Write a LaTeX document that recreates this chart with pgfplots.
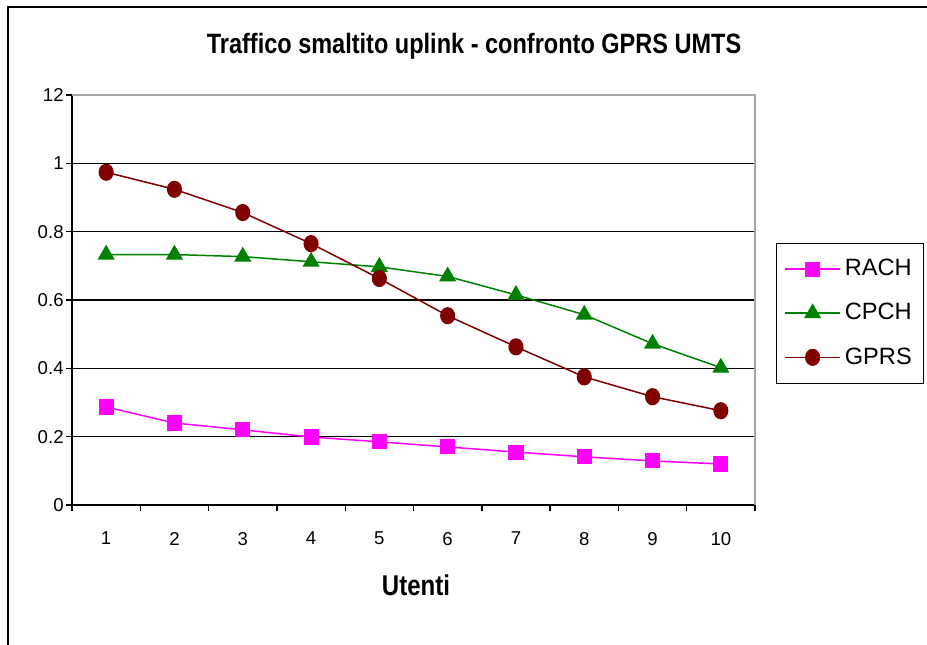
\documentclass[border=0pt]{standalone}
\usepackage{fontspec}
\setmainfont{Liberation Sans}
\usepackage{pgfplots}
\pgfplotsset{compat=1.18}

\definecolor{rach}{HTML}{FF00FF}
\definecolor{cpch}{HTML}{008000}
\definecolor{gprs}{HTML}{800000}

\begin{document}
\begin{tikzpicture}
% picture frame in image pixels (1px = 0.5pt), y downwards
\begin{scope}[x=0.5pt,y=-0.5pt]
\useasboundingbox (0,0) rectangle (927,644);
\draw[line width=1.2pt] (8,650) -- (8,7) -- (935,7);
\node[anchor=base, inner sep=0pt, font=\bfseries\fontsize{14}{16}\selectfont] at (474,53)
  {\scalebox{0.84}[1]{Traffico smaltito uplink - confronto GPRS UMTS}};
\node[anchor=base, inner sep=0pt, font=\bfseries\fontsize{14.3}{16}\selectfont] at (416,595)
  {\scalebox{0.84}[1]{Utenti}};
\end{scope}

\begin{axis}[
    at={(36pt,-252.5pt)}, anchor=south west,
    scale only axis,
    width=341.5pt, height=205pt,
    xmin=0.5, xmax=10.5,
    ymin=0, ymax=1.2,
    axis x line=bottom, axis y line=left,
    axis line style={-, line width=0.8pt, black},
    tick align=outside,
    major tick length=3pt,
    tick style={line width=0.7pt, black},
    xtick={0.5,1.5,...,10.5},
    xticklabels={},
    extra x ticks={1,2,...,10},
    extra x tick labels={1,2,3,4,5,6,7,8,9,10},
    extra x tick style={major tick length=0pt, grid=none,
        xticklabel style={yshift=-10pt}},
    ytick={0,0.2,0.4,0.6,0.8,1,1.2},
    yticklabels={0,0.2,0.4,0.6,0.8,1,12},
    ymajorgrids,
    grid style={line width=0.8pt, black},
    /pgf/number format/assume math mode=true,
    ticklabel style={font=\fontsize{9.3}{10}\selectfont},
    yticklabel style={inner sep=1pt},
    legend style={at={(1.0307,0.639)}, anchor=north west,
        draw=black,
        font=\fontsize{11.8}{13}\selectfont,
        row sep=8.3pt, inner xsep=4pt, inner ysep=6pt,
        cells={anchor=west}},
    legend image code/.code={%
        \draw[mark repeat=2,mark phase=2]
        plot coordinates {(0pt,0pt)(13.75pt,0pt)(27.5pt,0pt)};},
    clip=false,
]
\draw[gray!70, line width=0.8pt] (rel axis cs:0,1) -- (rel axis cs:1,1) -- (rel axis cs:1,0);

\addplot[rach, line width=0.75pt, mark=square*, mark size=3.4pt,
    mark options={solid, fill=rach}] coordinates {
    (1,0.287) (2,0.240) (3,0.220) (4,0.199) (5,0.185)
    (6,0.170) (7,0.155) (8,0.141) (9,0.129) (10,0.120)
};
\addplot[cpch, line width=0.75pt, mark=triangle*, mark size=4.2pt,
    mark options={solid, fill=cpch}] coordinates {
    (1,0.733) (2,0.733) (3,0.727) (4,0.712) (5,0.697)
    (6,0.669) (7,0.615) (8,0.557) (9,0.472) (10,0.402)
};
\addplot[gprs, line width=0.75pt, mark=*, mark size=3.4pt,
    mark options={solid, fill=gprs, yscale=1.15}] coordinates {
    (1,0.974) (2,0.924) (3,0.856) (4,0.765) (5,0.663)
    (6,0.554) (7,0.463) (8,0.375) (9,0.317) (10,0.276)
};
\legend{RACH, CPCH, GPRS}
\end{axis}
\end{tikzpicture}
\end{document}
